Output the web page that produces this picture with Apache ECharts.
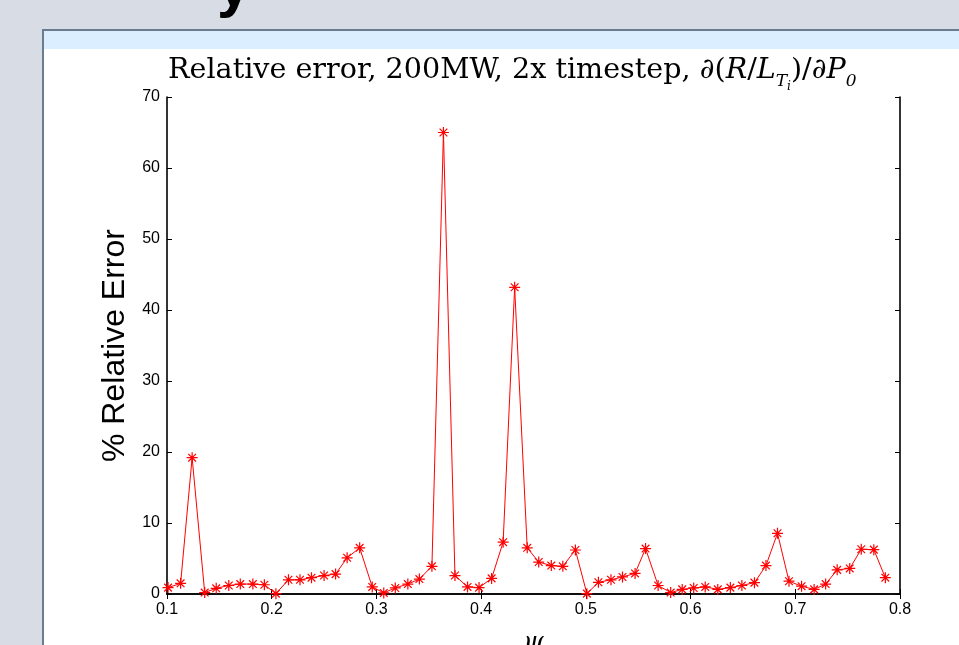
<!DOCTYPE html>
<html><head><meta charset="utf-8">
<script src="https://cdn.jsdelivr.net/npm/echarts@6/dist/echarts.min.js"></script>
<style>html,body{margin:0;padding:0;background:#d8dce4;}#c{width:959px;height:645px;}</style>
</head><body><div id="c"></div>
<script>
// psi values (x)
const psi = [0.101,0.113,0.124,0.136,0.147,0.159,0.170,0.182,0.193,0.204,
             0.216,0.227,0.238,0.250,0.261,0.272,0.284,0.296,0.307,0.318,
             0.330,0.341,0.353,0.364,0.375,0.387,0.398,0.410,0.421,0.432,
             0.444,0.455,0.467,0.478,0.490,0.501,0.512,0.524,0.535,0.547,
             0.557,0.569,0.581,0.592,0.603,0.614,0.626,0.638,0.649,0.661,
             0.672,0.683,0.694,0.706,0.718,0.729,0.740,0.752,0.763,0.775,0.786];
// % relative error values
const relErr = [0.9,1.5,19.2,0.2,0.8,1.2,1.4,1.4,1.3,0.05,
                2.0,2.0,2.3,2.6,2.8,5.1,6.5,1.0,0.15,0.85,
                1.4,2.1,3.9,65.0,2.6,1.0,0.9,2.2,7.3,43.2,
                6.5,4.5,4.0,3.9,6.2,0.05,1.65,2.0,2.4,2.9,
                6.4,1.2,0.2,0.65,0.85,1.0,0.65,0.9,1.2,1.6,
                4.0,8.55,1.8,1.1,0.65,1.4,3.4,3.6,6.3,6.25,2.3];
const xTicks = [0.1,0.2,0.3,0.4,0.5,0.6,0.7,0.8];
const yTicks = [0,10,20,30,40,50,60,70];

const chart = echarts.init(document.getElementById('c'), null, {renderer:'canvas'});
const star = 'path://M0,-1L0,1M-1,0L1,0M-0.7,-0.7L0.7,0.7M-0.7,0.7L0.7,-0.7';
const tickFmtX = v => (Math.round(v*10)/10).toFixed(1);
const baseAxisX = {
  type:'value', min:xTicks[0], max:xTicks[xTicks.length-1], interval:0.1,
  splitLine:{show:false},
  axisLine:{lineStyle:{color:'#000',width:1.6}},
  axisTick:{inside:true,length:5,lineStyle:{color:'#000',width:1}}
};
const baseAxisY = {
  type:'value', min:yTicks[0], max:yTicks[yTicks.length-1], interval:10,
  splitLine:{show:false},
  axisLine:{lineStyle:{color:'#000',width:1.6}},
  axisTick:{inside:true,length:5,lineStyle:{color:'#000',width:1}}
};
const serif = 'DejaVu Serif';
chart.setOption({
  backgroundColor:'#d8dce4',
  animation:false,
  graphic:[
    {type:'rect', shape:{x:43,y:30,width:930,height:630}, style:{fill:'#ffffff',stroke:'#6b7b90',lineWidth:2}},
    {type:'rect', shape:{x:44,y:31,width:920,height:18}, style:{fill:'#dbeeff'}},
    {type:'text', x:217, y:-41, style:{text:'y', font:'bold 60px "Liberation Sans"', fill:'#000'}}
  ],
  title:{
    left:163, top:47,
    text:'Relative error, 200MW, 2x timestep, ∂({i|R}/{i|L}{s|T}{ss|i})/∂{i|P}{s|0}',
    textStyle:{
      fontFamily:serif, fontSize:28.6, fontWeight:'normal', color:'#000', lineHeight:38,
      rich:{
        i:{fontFamily:serif, fontStyle:'italic', fontSize:28.6, lineHeight:38},
        s:{fontFamily:serif, fontStyle:'italic', fontSize:17, lineHeight:38, verticalAlign:'bottom'},
        ss:{fontFamily:serif, fontStyle:'italic', fontSize:12, lineHeight:34, verticalAlign:'bottom', padding:[0,0,-3,0]}
      }
    }
  },
  grid:{left:167, right:59, top:97, bottom:51, containLabel:false, outerBoundsMode:'none'},
  xAxis:[
    Object.assign({}, baseAxisX, {
      position:'bottom',
      axisLabel:{color:'#000', fontFamily:'Liberation Sans', fontSize:16, margin:8, formatter:tickFmtX},
      name:'ψ', nameLocation:'middle', nameGap:36,
      nameTextStyle:{color:'#000', fontFamily:serif, fontStyle:'italic', fontSize:26}
    }),
    Object.assign({}, baseAxisX, {position:'top', axisLabel:{show:false}})
  ],
  yAxis:[
    Object.assign({}, baseAxisY, {
      position:'left',
      axisLabel:{color:'#000', fontFamily:'Liberation Sans', fontSize:16, margin:7},
      name:'% Relative Error', nameLocation:'middle', nameGap:34,
      nameTextStyle:{color:'#000', fontFamily:'Liberation Sans', fontSize:32}
    }),
    Object.assign({}, baseAxisY, {position:'right', axisLabel:{show:false}})
  ],
  series:[{
    type:'line',
    data: psi.map((x,i)=>[x, relErr[i]]),
    lineStyle:{color:'#ff0000', width:1},
    symbol: star, symbolSize:11,
    itemStyle:{color:'#ff0000', borderColor:'#ff0000', borderWidth:1.2},
    showSymbol:true
  }]
});
</script></body></html>
